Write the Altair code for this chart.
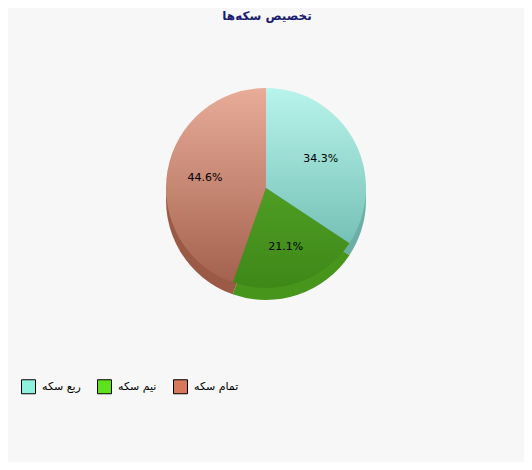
import altair as alt
import pandas as pd

# slices, clockwise from 12 o'clock
categories = ['ربع سکه', 'نیم سکه', 'تمام سکه']
shares = [34.3, 21.1, 44.6]
labels = ['34.3%', '21.1%', '44.6%']
legendColors = ['#8ff0dd', '#5de11b', '#d6795b']
topColors = [('#b8f4eb', '#76c1b7'), ('#4f9d24', '#3e8818'), ('#e8ac99', '#a4624e')]
sideColors = ['#69afa6', '#48951c', '#9a5a46']
chartTitle = ['تخصیص سکه\u200cها']

W, H = 516, 360
cx, cy = 258, 180
R = 100
depth = 12

df = pd.DataFrame({'category': categories, 'share': shares,
                   'label': labels, 'order': [0, 1, 2]})

thetaScale = alt.Scale(domain=[0, 100])

base = alt.Chart(df).transform_window(
    end='sum(share)', sort=[alt.SortField('order')],
    frame=[None, 0]
).transform_calculate(
    start='datum.end - datum.share',
    mid='datum.end - datum.share / 2'
)

layers = []
# side of the 3D pie
for name, side in zip(categories, sideColors):
    layers.append(base.transform_filter(
        alt.datum.category == name
    ).mark_arc(radius=R, fill=side).encode(
        theta=alt.Theta('start:Q', scale=thetaScale),
        theta2='end:Q',
        x=alt.value(cx), y=alt.value(cy + depth)
    ))

# top surface
for name, (c1, c2) in zip(categories, topColors):
    grad = alt.Gradient(
        gradient='linear', x1=0, x2=0, y1=0, y2=1,
        stops=[alt.GradientStop(color=c1, offset=0),
               alt.GradientStop(color=c2, offset=1)])
    layers.append(base.transform_filter(
        alt.datum.category == name
    ).mark_arc(radius=R, fill=grad).encode(
        theta=alt.Theta('start:Q', scale=thetaScale),
        theta2='end:Q',
        x=alt.value(cx), y=alt.value(cy)
    ))

text = base.mark_text(
    radius=62, font='DejaVu Sans', fontSize=11, color='#000000'
).encode(
    theta=alt.Theta('mid:Q', scale=thetaScale),
    text='label:N',
    x=alt.value(cx), y=alt.value(cy)
)

legend = alt.Chart(df).mark_square(opacity=0).encode(
    x=alt.value(0), y=alt.value(0),
    color=alt.Color('category:N',
                    scale=alt.Scale(domain=categories, range=legendColors),
                    legend=alt.Legend(
                        title=None, orient='none', direction='horizontal',
                        legendX=13, legendY=371,
                        symbolType='square', symbolSize=196,
                        symbolOpacity=1, symbolStrokeColor='#000000',
                        symbolStrokeWidth=1, gridAlign='all',
                        columnPadding=8, labelOffset=6,
                        labelFont='DejaVu Sans', labelFontSize=11,
                        labelColor='#000000'))
)

title = alt.Chart(pd.DataFrame({'t': chartTitle})).mark_text(
    font='DejaVu Sans', fontSize=12, fontWeight='bold', color='#1c1c6e'
).encode(text='t:N', x=alt.value(259), y=alt.value(8))

chart = alt.layer(*layers, text, legend, title).properties(
    width=W, height=H,
    padding={'left': 0, 'top': 0, 'right': 0, 'bottom': 94},
    autosize='none',
    background='#f7f7f7'
).configure_view(stroke=None)

chart.save("out.html", embed_options={"renderer": "svg", "actions": False})
